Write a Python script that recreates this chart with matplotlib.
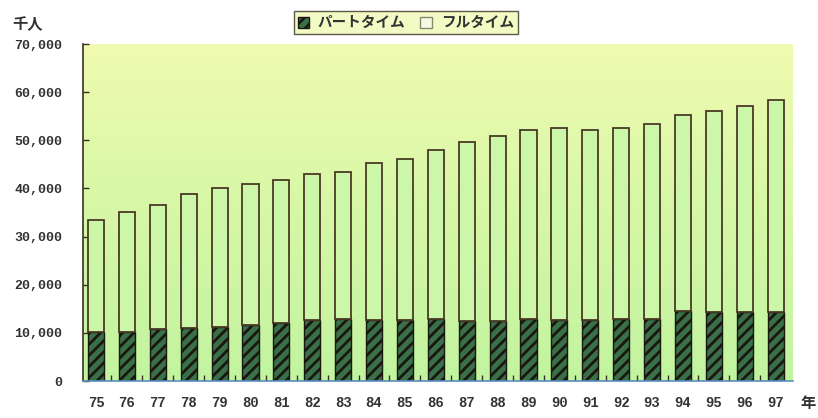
import numpy as np
import matplotlib
matplotlib.use('Agg')
import matplotlib.pyplot as plt
from matplotlib.patches import Patch
from matplotlib.colors import LinearSegmentedColormap

# data (千人)
years = ['75', '76', '77', '78', '79', '80', '81', '82', '83', '84', '85', '86',
         '87', '88', '89', '90', '91', '92', '93', '94', '95', '96', '97']
part_time = [10150, 10230, 10700, 11050, 11250, 11550, 11950, 12650, 12800, 12700, 12650, 12900,
             12400, 12450, 12800, 12650, 12650, 12800, 12800, 14450, 14400, 14400, 14400]
full_time = [23350, 24870, 25800, 27750, 28850, 29350, 29750, 30250, 30600, 32500, 33550, 35000,
             37200, 38350, 39300, 39850, 39450, 39700, 40600, 40850, 41700, 42700, 43900]
labels = ['パートタイム', 'フルタイム']

plt.rcParams['font.family'] = ['Noto Sans CJK JP', 'DejaVu Sans']
plt.rcParams['hatch.linewidth'] = 2.0

fig = plt.figure(figsize=(8.18, 4.18), dpi=100)
ax = fig.add_axes([0.1015, 0.0885, 0.8679, 0.8062])

# greenish background gradient
bg = LinearSegmentedColormap.from_list('bg', ['#c2f4a0', '#d6f7a6', '#f0fbb0'])
grad = np.linspace(0, 1, 256).reshape(-1, 1)
ax.imshow(grad, aspect='auto', cmap=bg, origin='lower', extent=[0, 1, 0, 1],
          transform=ax.transAxes, zorder=0)

x = np.arange(len(years))
w = 0.52
ax.bar(x, part_time, w, color='#3a7048', edgecolor='#1a1710', hatch='///',
       linewidth=1.0, zorder=2)
ax.bar(x, full_time, w, bottom=part_time, color='#cdf7a8', edgecolor='#4a3a25',
       linewidth=1.3, zorder=2)

ax.set_xlim(-0.42, 22.56)
ax.set_ylim(0, 70000)
ax.set_yticks(range(0, 70001, 10000))
ax.set_yticklabels([f'{v:,}' for v in range(0, 70001, 10000)],
                   family='Liberation Mono', fontweight='bold', fontsize=9.5, color='#333333')
ax.set_xticks(x)
ax.set_xticklabels(years, family='Liberation Mono', fontweight='bold', fontsize=10, color='#333333')
ax.set_xticks(x[:-1] + 0.5, minor=True)
ax.tick_params(axis='y', direction='in', length=4, width=1, color='#3a3020', pad=15)
ax.tick_params(axis='x', which='major', length=0, pad=11)
ax.tick_params(axis='x', which='minor', direction='in', length=4, width=1, color='#3a3020')

for s in ['top', 'right']:
    ax.spines[s].set_visible(False)
ax.spines['left'].set_color('#3a3020')
ax.spines['left'].set_linewidth(1.2)
ax.spines['bottom'].set_color('#5a8fc0')
ax.spines['bottom'].set_linewidth(1.2)

fig.text(0.034, 0.942, '千人', fontsize=11, fontweight='bold', color='#333333', ha='center', va='center')
fig.text(0.988, 0.036, '年', fontsize=11, fontweight='bold', color='#333333', ha='center', va='center')

handles = [Patch(facecolor='#3a7048', edgecolor='#1a1710', hatch='///', linewidth=1.0),
           Patch(facecolor='#f4fbe2', edgecolor='#8a8a70', linewidth=1.0)]
leg = fig.legend(handles, labels, loc='center', bbox_to_anchor=(0.496, 0.947), ncol=2,
                 prop={'size': 10.5, 'weight': 'bold'}, handlelength=0.8, handleheight=0.8,
                 handletextpad=0.6, columnspacing=1.0, borderpad=0.25, fancybox=False, frameon=True)
leg.get_frame().set_facecolor('#eefab5')
leg.get_frame().set_edgecolor('#3a3020')
leg.get_frame().set_linewidth(1.0)
for t in leg.get_texts():
    t.set_color('#333333')

fig.savefig('out.png', dpi=100)
